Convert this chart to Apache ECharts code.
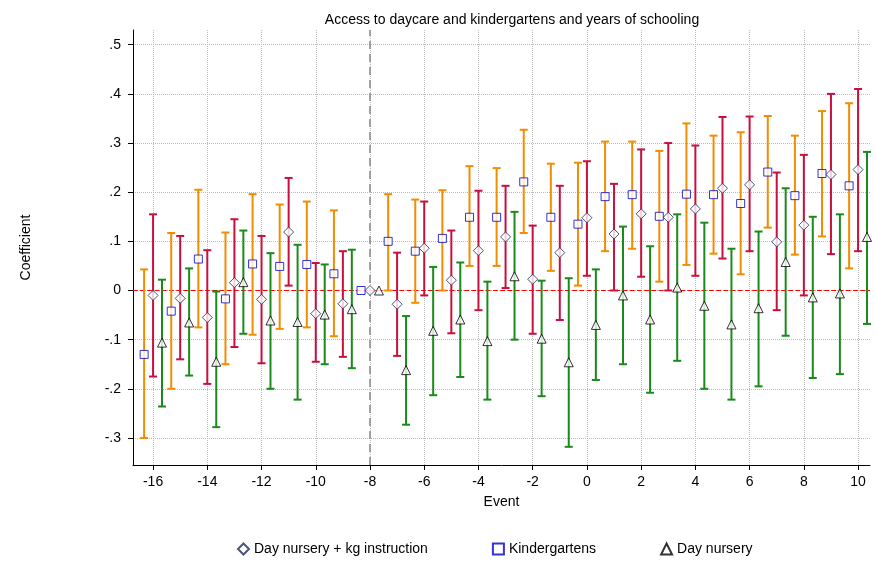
<!DOCTYPE html><html><head><meta charset="utf-8">
<script src="https://cdn.jsdelivr.net/npm/echarts@6/dist/echarts.min.js"></script>
<style>body{margin:0}#c{width:875px;height:567px}</style></head><body><div id="c"></div>
<script>
const events=[-16,-15,-14,-13,-12,-11,-10,-9,-8,-7,-6,-5,-4,-3,-2,-1,0,1,2,3,4,5,6,7,8,9,10];
const kgCoef=[-0.13,-0.042,0.064,-0.017,0.054,0.049,0.053,0.034,0,0.10,0.080,0.106,0.149,0.149,0.221,0.149,0.135,0.191,0.195,0.151,0.196,0.195,0.177,0.241,0.193,0.238,0.213];
const kgLo=[-0.30,-0.20,-0.075,-0.15,-0.09,-0.078,-0.075,-0.093,null,0.0,-0.025,0.0,0.05,0.05,0.117,0.04,0.01,0.08,0.085,0.018,0.052,0.075,0.033,0.128,0.073,0.11,0.045];
const kgHi=[0.043,0.117,0.205,0.118,0.196,0.175,0.181,0.163,null,0.196,0.185,0.204,0.253,0.249,0.327,0.258,0.26,0.303,0.303,0.284,0.340,0.315,0.322,0.355,0.315,0.365,0.381];
const dkCoef=[-0.01,-0.016,-0.055,0.016,-0.018,0.119,-0.047,-0.027,0,-0.028,0.086,0.021,0.081,0.109,0.023,0.077,0.148,0.115,0.156,0.149,0.166,0.208,0.215,0.099,0.133,0.236,0.246];
const dkLo=[-0.175,-0.14,-0.19,-0.115,-0.148,0.01,-0.145,-0.135,null,-0.133,-0.01,-0.087,-0.04,0.005,-0.088,-0.06,0.03,0.0,0.028,0.0,0.03,0.065,0.08,-0.04,-0.01,0.074,0.08];
const dkHi=[0.155,0.111,0.082,0.145,0.111,0.229,0.056,0.08,null,0.077,0.181,0.122,0.203,0.213,0.132,0.213,0.263,0.217,0.287,0.30,0.295,0.353,0.354,0.24,0.276,0.40,0.41];
const dnCoef=[-0.106,-0.065,-0.145,0.017,-0.061,-0.064,-0.049,-0.038,0,-0.162,-0.082,-0.059,-0.103,0.029,-0.098,-0.146,-0.07,-0.01,-0.059,0.006,-0.031,-0.069,-0.036,0.058,-0.014,-0.006,0.109];
const dnLo=[-0.236,-0.173,-0.278,-0.088,-0.20,-0.222,-0.15,-0.158,null,-0.273,-0.213,-0.176,-0.222,-0.10,-0.215,-0.318,-0.182,-0.15,-0.208,-0.143,-0.20,-0.222,-0.195,-0.092,-0.178,-0.17,-0.068];
const dnHi=[0.022,0.045,-0.002,0.122,0.076,0.093,0.053,0.083,null,-0.052,0.048,0.057,0.018,0.16,0.02,0.025,0.043,0.13,0.09,0.155,0.138,0.085,0.12,0.208,0.15,0.155,0.282];
const xTicks=[-16,-14,-12,-10,-8,-6,-4,-2,0,2,4,6,8,10];
const yTicks=[-0.3,-0.2,-0.1,0,0.1,0.2,0.3,0.4,0.5];
const yLabels={'-0.3':'-.3','-0.2':'-.2','-0.1':'-.1','0':'0','0.1':'.1','0.2':'.2','0.3':'.3','0.4':'.4','0.5':'.5'};
const off=0.33;
function ci(lo,hi,shift,color){
  const d=[];events.forEach((e,i)=>{if(lo[i]!==null)d.push([e+shift,lo[i],hi[i]]);});
  return {type:'custom',data:d,z:2,silent:true,renderItem:(p,api)=>{
    const x=api.value(0),a=api.coord([x,api.value(1)]),b=api.coord([x,api.value(2)]),w=4;
    const st={stroke:color,lineWidth:2};
    return {type:'group',children:[
      {type:'line',shape:{x1:a[0],y1:a[1],x2:b[0],y2:b[1]},style:st},
      {type:'line',shape:{x1:a[0]-w,y1:a[1],x2:a[0]+w,y2:a[1]},style:st},
      {type:'line',shape:{x1:b[0]-w,y1:b[1],x2:b[0]+w,y2:b[1]},style:st}]};
  }};
}
function pts(name,coef,shift,symbol,color,size){
  return {name,type:'scatter',z:5,symbol,symbolSize:size,data:events.map((e,i)=>[e+shift,coef[i]]),
    itemStyle:{color:'#fff',borderColor:color,borderWidth:1}};
}
const ch=echarts.init(document.getElementById('c'));
ch.setOption({
  animation:false,
  title:{text:'Access to daycare and kindergartens and years of schooling',left:507,top:8,textAlign:'center',textStyle:{fontFamily:'Arial, Liberation Sans',fontSize:14,fontWeight:'normal',color:'#000'}},
  grid:{left:133,right:5,top:30,bottom:102},
  xAxis:{type:'value',min:-16.74,max:10.44,name:'Event',nameLocation:'middle',nameGap:30,
    nameTextStyle:{fontFamily:'Arial, Liberation Sans',fontSize:14,color:'#000'},
    axisLine:{onZero:false,lineStyle:{color:'#000'}},
    axisTick:{customValues:xTicks,length:5,lineStyle:{color:'#000'}},
    axisLabel:{customValues:xTicks,fontFamily:'Arial, Liberation Sans',fontSize:14,color:'#000',margin:10},
    splitLine:{show:true,customValues:xTicks,lineStyle:{type:'dotted',color:'#bbb'}}},
  yAxis:{type:'value',min:-0.355,max:0.53,name:'Coefficient',nameLocation:'middle',nameGap:100,
    nameTextStyle:{fontFamily:'Arial, Liberation Sans',fontSize:14,color:'#000'},
    axisLine:{show:true,onZero:false,lineStyle:{color:'#000'}},
    axisTick:{show:true,customValues:yTicks,length:5,lineStyle:{color:'#000'}},
    axisLabel:{customValues:yTicks,formatter:v=>yLabels[String(Math.round(v*10)/10)]??'',fontFamily:'Arial, Liberation Sans',fontSize:14,color:'#000',margin:12},
    splitLine:{show:true,customValues:yTicks,lineStyle:{type:'dotted',color:'#bbb'}}},
  legend:{bottom:6,left:232,itemGap:64,itemWidth:11,itemHeight:11,textStyle:{fontFamily:'Arial, Liberation Sans',fontSize:14,color:'#000'},
    data:['Day nursery + kg instruction','Kindergartens','Day nursery']},
  series:[
    ci(kgLo,kgHi,-off,'#f28c00'),
    ci(dkLo,dkHi,0,'#c8103e'),
    ci(dnLo,dnHi,off,'#1a8a1a'),
    {type:'line',data:[[-16.74,0],[10.44,0]],symbol:'none',z:1,silent:true,lineStyle:{color:'#ff0000',type:'dashed',width:1.2}},
    {type:'line',data:[[-8,-0.355],[-8,0.53]],symbol:'none',z:1,silent:true,lineStyle:{color:'#888',type:[8,5],width:1.5}},
    pts('Day nursery + kg instruction',dkCoef,0,'diamond','#1f2a5a',10),
    pts('Kindergartens',kgCoef,-off,'rect','#0000cc',8),
    pts('Day nursery',dnCoef,off,'triangle','#000',9)
  ]
});
</script></body></html>
